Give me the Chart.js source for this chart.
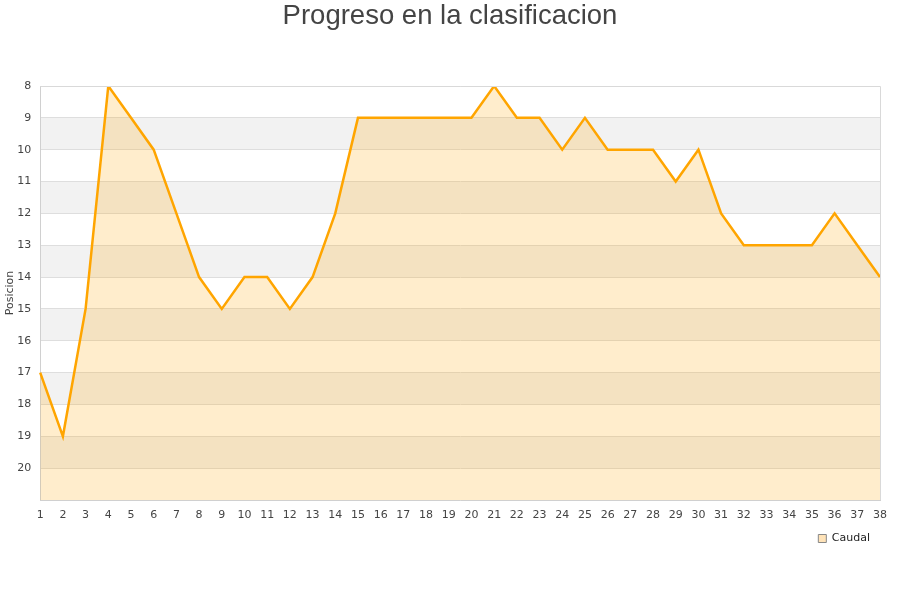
<!DOCTYPE html>
<html>
<head>
<meta charset="utf-8">
<script src="https://cdn.jsdelivr.net/npm/chart.js@4"></script>
<style>
  body { margin: 0; background: #fff; }
  #wrap { width: 900px; height: 600px; }
</style>
</head>
<body>
<div id="wrap"><canvas id="myChart" width="900" height="600"></canvas></div>
<script>
let titulo = "Progreso en la clasificacion";
let jornadas = [];
for (let j = 1; j <= 38; j++) {
    jornadas.push(String(j));
}
let posiciones = [17, 19, 15, 8, 9, 10, 12, 14, 15, 14, 14, 15, 14, 12, 9, 9, 9, 9, 9, 9,
                  8, 9, 9, 10, 9, 10, 10, 10, 11, 10, 12, 13, 13, 13, 13, 12, 13, 14];
let posMin = 8;
let posMax = 21;
let bandas = [9, 11, 13, 15, 17, 19];

// franjas grises alternas, marco del area y titulo centrado en el lienzo
let fondo = {
    id: "fondo",
    beforeDraw(chart) {
        let ctx = chart.ctx;
        let area = chart.chartArea;
        let y = chart.scales.y;
        ctx.save();
        ctx.fillStyle = "#f2f2f2";
        for (let b = 0; b < bandas.length; b++) {
            let y1 = y.getPixelForValue(bandas[b]);
            let y2 = y.getPixelForValue(bandas[b] + 1);
            ctx.fillRect(area.left, y1, area.right - area.left, y2 - y1);
        }
        ctx.restore();
    },
    afterDraw(chart) {
        let ctx = chart.ctx;
        let area = chart.chartArea;
        ctx.save();
        ctx.strokeStyle = "#d9d9d9";
        ctx.lineWidth = 1;
        ctx.beginPath();
        ctx.moveTo(area.left, area.top + 0.5);
        ctx.lineTo(area.right + 0.5, area.top + 0.5);
        ctx.lineTo(area.right + 0.5, area.bottom);
        ctx.stroke();

        ctx.fillStyle = "#444";
        ctx.font = "27.5px 'Liberation Sans'";
        ctx.textAlign = "center";
        ctx.textBaseline = "middle";
        ctx.fillText(titulo, chart.width / 2, 16);
        ctx.restore();
    }
};

new Chart(document.getElementById("myChart"), {
    type: "line",
    data: {
        labels: jornadas,
        datasets: [{
            label: "Caudal",
            data: posiciones,
            borderColor: "#ffa500",
            backgroundColor: "rgba(255,165,0,0.2)",
            borderWidth: 2.5,
            pointRadius: 0,
            tension: 0,
            fill: { value: posMax }
        }]
    },
    options: {
        responsive: false,
        maintainAspectRatio: false,
        animation: false,
        layout: { padding: { left: 0, right: 20, top: 86, bottom: 46 } },
        plugins: {
            title: { display: false },
            legend: {
                position: "bottom",
                align: "end",
                labels: {
                    boxWidth: 8,
                    boxHeight: 8,
                    padding: 10,
                    color: "#222",
                    font: { family: "DejaVu Sans", size: 11 },
                    generateLabels: function (chart) {
                        let items = Chart.defaults.plugins.legend.labels.generateLabels(chart);
                        items.forEach(function (it) {
                            it.fillStyle = "#ffe3b8";
                            it.strokeStyle = "#888";
                            it.lineWidth = 1;
                        });
                        return items;
                    }
                }
            },
            tooltip: { enabled: false }
        },
        scales: {
            x: {
                offset: false,
                grid: { display: false, drawTicks: false },
                border: { color: "#d0d0d0" },
                afterFit: function (scale) { scale.height = 23; },
                ticks: {
                    color: "#444",
                    padding: 9,
                    maxRotation: 0,
                    autoSkip: false,
                    font: { family: "DejaVu Sans", size: 11 }
                }
            },
            y: {
                reverse: true,
                min: posMin,
                max: posMax,
                border: { color: "#d0d0d0" },
                grid: { color: "#dedede", drawTicks: false },
                title: {
                    display: true,
                    text: "Posicion",
                    color: "#444",
                    font: { family: "DejaVu Sans", size: 11 },
                    padding: { top: 4, bottom: -9 }
                },
                ticks: {
                    stepSize: 1,
                    padding: 9,
                    color: "#444",
                    font: { family: "DejaVu Sans", size: 11 },
                    callback: function (v) { return v == posMax ? "" : v; }
                }
            }
        }
    },
    plugins: [fondo]
});
</script>
</body>
</html>
